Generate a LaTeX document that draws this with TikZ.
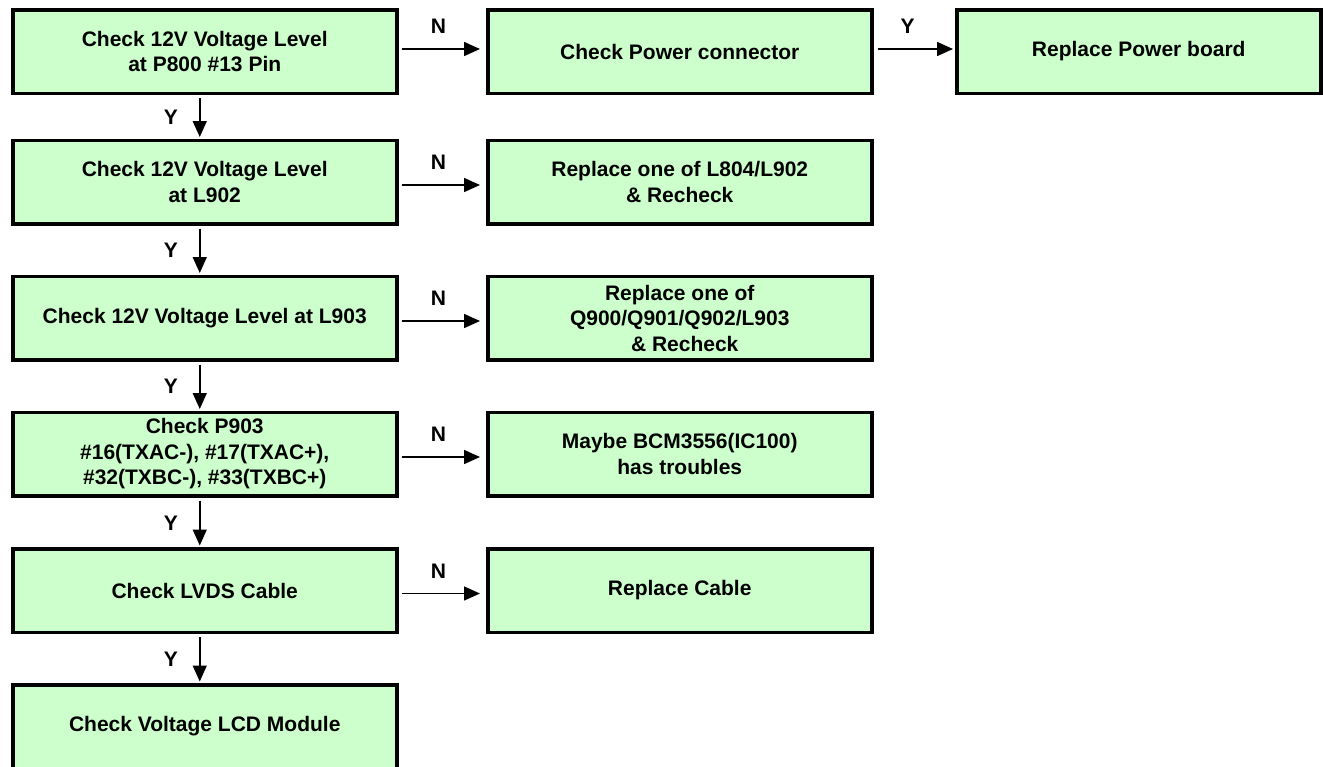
\documentclass[tikz,border=0pt]{standalone}
\usepackage{fontspec}
\setmainfont{Liberation Sans}
\usetikzlibrary{arrows.meta}
\definecolor{boxgreen}{HTML}{CCFFCC}
\begin{document}
\begin{tikzpicture}[x=1pt,y=-1pt,
  box/.style={draw=black, line width=3.5pt, fill=boxgreen, minimum width=384pt,
    minimum height=83.5pt, inner sep=0pt, align=center, anchor=north west,
    font=\fontsize{21}{25.5}\selectfont\bfseries},
  narrowbox/.style={box, minimum width=364pt},
  arr/.style={-{Triangle[length=16pt,width=14pt]}, line width=1.5pt},
  lab/.style={inner sep=0pt, font=\fontsize{21}{25}\selectfont\bfseries}
]
\useasboundingbox (0,0) rectangle (1323,766);
\clip (0,0) rectangle (1323,766);

% main column
\node[box] (l1) at (11,8)     {Check 12V Voltage Level\\at P800 \#13 Pin};
\node[box] (l2) at (11,138.5) {Check 12V Voltage Level\\at L902};
\node[box] (l3) at (11,274.5) {Check 12V Voltage Level at L903};
\node[box] (l4) at (11,410.5) {Check P903\\\#16(TXAC-), \#17(TXAC+),\\\#32(TXBC-), \#33(TXBC+)};
\node[box] (l5) at (11,547)   {Check LVDS Cable};
\node[box] (l6) at (11,683)   {Check Voltage LCD Module};

% failure branch column
\node[box] (m1) at (486,8)     {Check Power connector};
\node[box] (m2) at (486,138.5) {Replace one of L804/L902\\\& Recheck};
\node[box] (m3) at (486,274.5) {Replace one of\\Q900/Q901/Q902/L903\\\hspace*{10pt}\& Recheck};
\node[box] (m4) at (486,410.5) {Maybe BCM3556(IC100)\\has troubles};
\node[box] (m5) at (486,547)   {Replace Cable};

% final action
\node[narrowbox] (r1) at (955,8) {Replace Power board};

% "Y" connectors down the main column
\foreach \a/\b in {l1/l2, l2/l3, l3/l4, l4/l5, l5/l6}
  \draw[arr] ([xshift=-5pt,yshift=-3pt]\a.south) --
    node[lab, midway, left=21pt] {Y}
    ([xshift=-5pt,yshift=1.5pt]\b.north);

% "N" connectors to the right
\draw[arr] ([xshift=3pt,yshift=2.5pt]l1.east) --
  node[lab, pos=0.47, above=14.5pt] {N} ([xshift=-6pt,yshift=2.5pt]m1.west);
\foreach \a/\b in {l2/m2, l3/m3, l4/m4, l5/m5}
  \draw[arr] ([xshift=3pt,yshift=-3pt]\a.east) --
    node[lab, pos=0.47, above=14.5pt] {N} ([xshift=-6pt,yshift=-3pt]\b.west);

\draw[arr] ([xshift=4pt,yshift=2.5pt]m1.east) --
  node[lab, pos=0.4, above=14.5pt] {Y} ([xshift=-2pt,yshift=2.5pt]r1.west);
\end{tikzpicture}
\end{document}
